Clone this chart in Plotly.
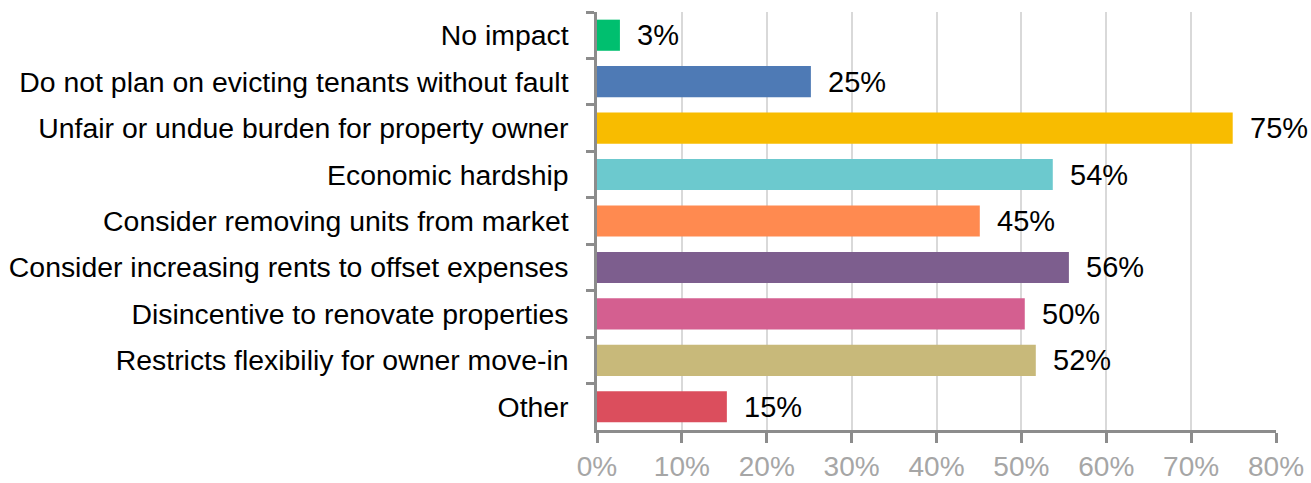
import plotly.graph_objects as go

categories = [
    "No impact",
    "Do not plan on evicting tenants without fault",
    "Unfair or undue burden for property owner",
    "Economic hardship",
    "Consider removing units from market",
    "Consider increasing rents to offset expenses",
    "Disincentive to renovate properties",
    "Restricts flexibiliy for owner move-in",
    "Other",
]
values = [2.7, 25.2, 74.9, 53.7, 45.1, 55.6, 50.4, 51.7, 15.3]
labels = ["3%", "25%", "75%", "54%", "45%", "56%", "50%", "52%", "15%"]
colors = ["#00BF6F", "#4E7AB5", "#F8BC00", "#6CC9CE", "#FF8A50",
          "#7D5E8E", "#D45F90", "#C8B97A", "#DB4E5D"]
tick_vals = [0, 10, 20, 30, 40, 50, 60, 70, 80]
tick_text = ["0%", "10%", "20%", "30%", "40%", "50%", "60%", "70%", "80%"]

fig = go.Figure()
fig.add_trace(go.Bar(
    y=categories, x=values, orientation="h",
    marker=dict(color=colors, line=dict(width=0)),
    hoverinfo="skip",
))
for c, v, t in zip(categories, values, labels):
    fig.add_annotation(x=v, y=c, text=t, showarrow=False, xanchor="left",
                       xshift=15, font=dict(family="Liberation Sans", size=29, color="#000000"))

fig.update_layout(
    width=1311, height=483,
    margin=dict(l=597, r=35, t=12, b=53, autoexpand=False),
    paper_bgcolor="white", plot_bgcolor="white",
    bargap=0.33, showlegend=False,
    font=dict(family="Liberation Sans"),
)
fig.update_xaxes(
    range=[0, 80], tickvals=tick_vals, ticktext=tick_text,
    showgrid=True, gridcolor="#D9D9D9", gridwidth=1.5,
    showline=True, linecolor="#8C8C8C", linewidth=2.5,
    ticks="outside", ticklen=10, tickwidth=2.5, tickcolor="#8C8C8C",
    tickfont=dict(family="Liberation Sans", size=28, color="#A6A6A6"),
    ticklabelstandoff=0, zeroline=False, fixedrange=True, automargin=False,
)
fig.update_yaxes(
    categoryorder="array", categoryarray=categories, autorange="reversed",
    showline=True, linecolor="#8C8C8C", linewidth=2.5,
    ticks="outside", ticklen=8, tickwidth=2.5, tickcolor="#8C8C8C",
    tickson="boundaries", ticklabelstandoff=20,
    tickfont=dict(family="Liberation Sans", size=28.4, color="#000000"),
    showgrid=False, fixedrange=True, automargin=False,
)
fig.write_html(
    "out.html",
    config={"displayModeBar": False},
    post_script="document.body.style.margin='0';document.body.style.overflow='hidden';",
)
